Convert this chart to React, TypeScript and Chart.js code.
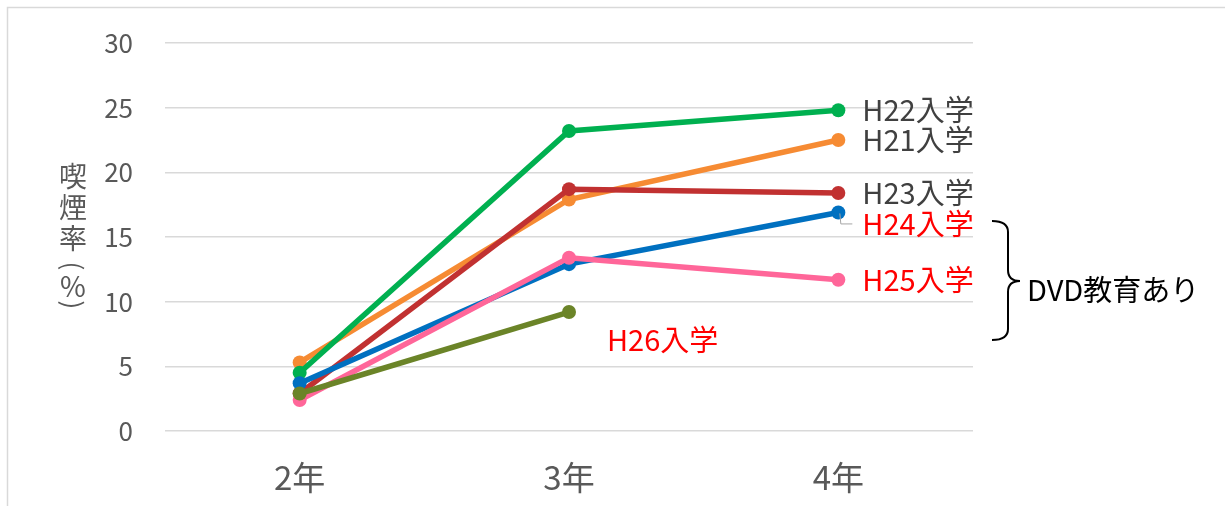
import React, { useEffect, useRef } from "react";
import { Chart, registerables } from "chart.js";

Chart.register(...registerables);

const categories = ["2年", "3年", "4年"];
const seriesNames = ["H21入学", "H22入学", "H23入学", "H24入学", "H25入学", "H26入学"];
const h21 = [5.3, 17.9, 22.5];
const h22 = [4.5, 23.2, 24.8];
const h23 = [2.9, 18.7, 18.4];
const h24 = [3.7, 12.9, 16.9];
const h25 = [2.4, 13.4, 11.7];
const h26 = [2.9, 9.2, null];
const seriesColors = ["#F68B33", "#00B050", "#C13131", "#0070C0", "#FF6699", "#6B8428"];
const labelColors = ["#404040", "#404040", "#404040", "#FF0000", "#FF0000", "#FF0000"];
const yTitleChars = ["喫", "煙", "率", "(", "%", ")"];
const bracketText = "DVD教育あり";

const FONT = "'Noto Sans CJK JP', 'Noto Sans', sans-serif";

const annotationPlugin = {
  id: "annotations",
  beforeDraw(chart: any) {
    const ctx = chart.ctx;
    ctx.save();
    ctx.fillStyle = "#ffffff";
    ctx.fillRect(0, 0, chart.width, chart.height);
    ctx.strokeStyle = "#d9d9d9";
    ctx.lineWidth = 1.5;
    ctx.beginPath();
    ctx.moveTo(7.5, chart.height);
    ctx.lineTo(7.5, 7.5);
    ctx.lineTo(chart.width, 7.5);
    ctx.stroke();
    ctx.restore();
  },
  afterDatasetsDraw(chart: any) {
    const ctx = chart.ctx;
    ctx.save();
    ctx.textBaseline = "middle";
    ctx.textAlign = "left";
    ctx.font = `29px ${FONT}`;
    const dys = [0, 0, 0, 12, 0, 28];
    chart.data.datasets.forEach((ds: any, i: number) => {
      const meta = chart.getDatasetMeta(i);
      let idx = ds.data.length - 1;
      while (idx >= 0 && (ds.data[idx] === null || ds.data[idx] === undefined)) idx--;
      const pt = meta.data[idx];
      if (!pt) return;
      const dx = idx === ds.data.length - 1 ? 24 : 38;
      ctx.fillStyle = labelColors[i];
      ctx.fillText(seriesNames[i], pt.x + dx, pt.y + dys[i]);
      if (i === 3) {
        ctx.strokeStyle = "#a6a6a6";
        ctx.lineWidth = 1;
        ctx.beginPath();
        ctx.moveTo(pt.x + 1.5, pt.y + 1);
        ctx.lineTo(pt.x + 2.5, pt.y + 11.5);
        ctx.lineTo(pt.x + 14, pt.y + 11.5);
        ctx.stroke();
      }
    });
    ctx.fillStyle = "#595959";
    ctx.textAlign = "center";
    ctx.font = `28px ${FONT}`;
    const ys = [176, 207, 238, 266, 286, 305];
    yTitleChars.forEach((c, i) => {
      if (c === "(" || c === ")") {
        ctx.save();
        ctx.translate(73, ys[i]);
        ctx.rotate(Math.PI / 2);
        ctx.font = `26px ${FONT}`;
        ctx.fillText(c, 0, 0);
        ctx.restore();
      } else {
        ctx.fillText(c, 73, ys[i]);
      }
    });
    ctx.strokeStyle = "#000000";
    ctx.lineWidth = 2;
    ctx.beginPath();
    ctx.moveTo(992, 221);
    ctx.quadraticCurveTo(1008, 221, 1008, 232);
    ctx.lineTo(1008, 270);
    ctx.quadraticCurveTo(1008, 281, 1020, 281);
    ctx.quadraticCurveTo(1008, 281, 1008, 292);
    ctx.lineTo(1008, 329);
    ctx.quadraticCurveTo(1008, 340, 992, 340);
    ctx.stroke();
    ctx.fillStyle = "#000000";
    ctx.textAlign = "left";
    ctx.font = `29px ${FONT}`;
    ctx.fillText(bracketText, 1027, 290);
    ctx.restore();
  },
};

export default function App() {
  const ref = useRef<HTMLCanvasElement>(null);
  useEffect(() => {
    const values = [h21, h22, h23, h24, h25, h26];
    const chart = new Chart(ref.current as HTMLCanvasElement, {
      type: "line",
      data: {
        labels: categories,
        datasets: values.map((v, i) => ({
          label: seriesNames[i],
          data: v,
          borderColor: seriesColors[i],
          backgroundColor: seriesColors[i],
          pointBackgroundColor: seriesColors[i],
          pointBorderColor: seriesColors[i],
          borderWidth: 5.5,
          pointRadius: 7,
          pointBorderWidth: 0,
          tension: 0,
          spanGaps: false,
          order: 6 - i,
        })),
      },
      options: {
        responsive: false,
        animation: false,
        devicePixelRatio: 1,
        layout: { padding: { left: 0, top: 43, right: 252, bottom: 0 } },
        plugins: {
          legend: { display: false },
          title: { display: false },
          tooltip: { enabled: false },
        },
        scales: {
          x: {
            offset: true,
            grid: { display: false, drawTicks: false },
            border: { display: false },
            ticks: { color: "#595959", font: { family: FONT, size: 33 }, padding: 27 },
            afterFit: (s: any) => { s.height = 75; },
          },
          y: {
            min: 0,
            max: 30,
            grid: { color: "#d9d9d9", lineWidth: 1.5, drawTicks: false },
            border: { display: false },
            ticks: { stepSize: 5, color: "#595959", font: { family: FONT, size: 26, lineHeight: 0.8 }, padding: 32 },
            afterFit: (s: any) => { s.width = 165; },
          },
        },
      },
      plugins: [annotationPlugin],
    });
    return () => chart.destroy();
  }, []);
  return (
    <div style={{ position: "absolute", left: 0, top: 0, width: 1225, height: 506 }}>
      <canvas ref={ref} width={1225} height={506} />
    </div>
  );
}
